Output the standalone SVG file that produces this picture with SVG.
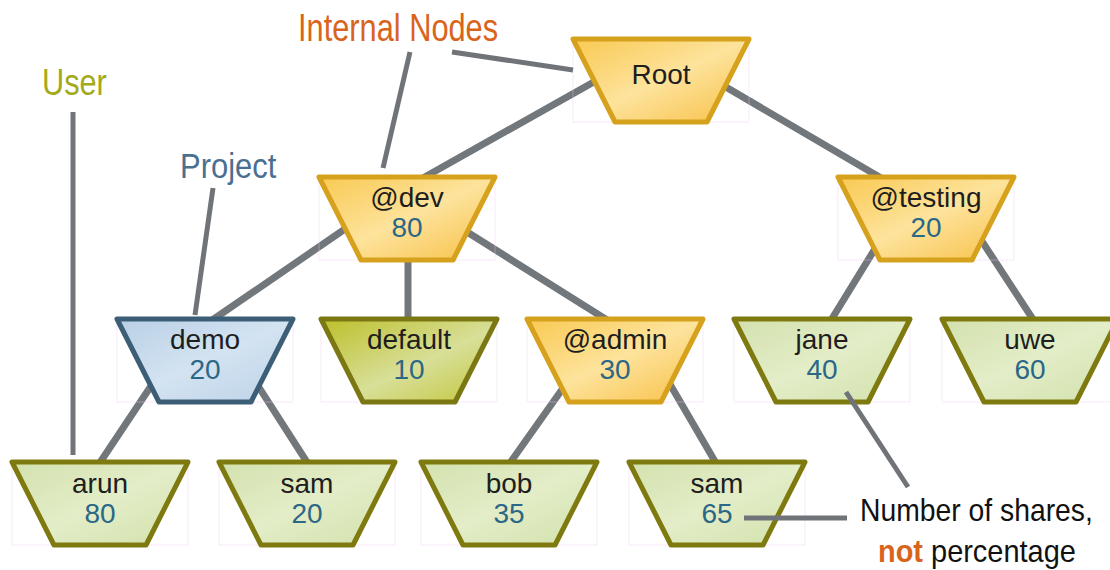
<svg xmlns="http://www.w3.org/2000/svg" width="1110" height="570" viewBox="0 0 1110 570">
  <defs>
    <linearGradient id="gInt" x1="0" y1="0" x2="1" y2="1">
      <stop offset="0" stop-color="#f9c952"/>
      <stop offset="0.5" stop-color="#fde39c"/>
      <stop offset="1" stop-color="#f8bf45"/>
    </linearGradient>
    <linearGradient id="gProj" x1="0" y1="0" x2="1" y2="1">
      <stop offset="0" stop-color="#b9cfe6"/>
      <stop offset="0.5" stop-color="#d3e3f1"/>
      <stop offset="1" stop-color="#bcd2e8"/>
    </linearGradient>
    <linearGradient id="gDef" x1="0" y1="0" x2="1" y2="1">
      <stop offset="0" stop-color="#bcbf2a"/>
      <stop offset="0.55" stop-color="#d8df98"/>
      <stop offset="1" stop-color="#c2c63a"/>
    </linearGradient>
    <linearGradient id="gUser" x1="0" y1="0" x2="1" y2="1">
      <stop offset="0" stop-color="#d3e1ad"/>
      <stop offset="0.5" stop-color="#e3edc8"/>
      <stop offset="1" stop-color="#d2e1aa"/>
    </linearGradient>
    <path id="trap" d="M -88 0 L 88 0 L 46 83 L -46 83 Z"/>
  </defs>
  <style>
    .conn { stroke: #72777c; stroke-width: 7; stroke-linecap: butt; fill: none; }
    .ann { stroke: #707479; stroke-width: 5; fill: none; }
    .bbox { fill: none; stroke: #ecc8ef; stroke-width: 1; opacity: 0.4; }
    .shape { stroke-width: 5; stroke-linejoin: round; }
    .int { fill: url(#gInt); stroke: #d6a11c; }
    .proj { fill: url(#gProj); stroke: #3d5e77; }
    .def { fill: url(#gDef); stroke: #7b7712; }
    .user { fill: url(#gUser); stroke: #7f7a10; }
    .name { font-family: "Liberation Sans", Arial, sans-serif; font-size: 28px; fill: #1e1e1e; text-anchor: middle; }
    .num { font-family: "Liberation Sans", Arial, sans-serif; font-size: 28px; fill: #2b6786; text-anchor: middle; }
    .lbl { font-family: "Liberation Sans", Arial, sans-serif; }
  </style>
  <rect width="1110" height="570" fill="#ffffff"/>

  <g id="connectors">
    <line class="conn" x1="640" y1="56" x2="407" y2="187"/>
    <line class="conn" x1="690" y1="66" x2="905" y2="192"/>
    <line class="conn" x1="380" y1="205" x2="205" y2="325"/>
    <line class="conn" x1="408" y1="230" x2="408" y2="325"/>
    <line class="conn" x1="440" y1="215" x2="615" y2="325"/>
    <line class="conn" x1="905" y1="200" x2="825" y2="330"/>
    <line class="conn" x1="955" y1="200" x2="1040" y2="330"/>
    <line class="conn" x1="175" y1="350" x2="95" y2="470"/>
    <line class="conn" x1="235" y1="350" x2="312" y2="470"/>
    <line class="conn" x1="590" y1="350" x2="505" y2="470"/>
    <line class="conn" x1="650" y1="350" x2="720" y2="470"/>
  </g>

  <g id="node-root" transform="translate(661,39)">
    <rect class="bbox" x="-88" y="0" width="176" height="83"/>
    <use href="#trap" class="shape int"/>
    <text class="name" x="0" y="45">Root</text>
  </g>
  <g id="node-dev" transform="translate(407,177)">
    <rect class="bbox" x="-88" y="0" width="176" height="83"/>
    <use href="#trap" class="shape int"/>
    <text class="name" x="0" y="30">@dev</text>
    <text class="num" x="0" y="60">80</text>
  </g>
  <g id="node-testing" transform="translate(926,177)">
    <rect class="bbox" x="-88" y="0" width="176" height="83"/>
    <use href="#trap" class="shape int"/>
    <text class="name" x="0" y="30">@testing</text>
    <text class="num" x="0" y="60">20</text>
  </g>
  <g id="node-demo" transform="translate(205,319)">
    <rect class="bbox" x="-88" y="0" width="176" height="83"/>
    <use href="#trap" class="shape proj"/>
    <text class="name" x="0" y="30">demo</text>
    <text class="num" x="0" y="60">20</text>
  </g>
  <g id="node-default" transform="translate(409,319)">
    <rect class="bbox" x="-88" y="0" width="176" height="83"/>
    <use href="#trap" class="shape def"/>
    <text class="name" x="0" y="30">default</text>
    <text class="num" x="0" y="60">10</text>
  </g>
  <g id="node-admin" transform="translate(615,319)">
    <rect class="bbox" x="-88" y="0" width="176" height="83"/>
    <use href="#trap" class="shape int"/>
    <text class="name" x="0" y="30">@admin</text>
    <text class="num" x="0" y="60">30</text>
  </g>
  <g id="node-jane" transform="translate(822,319)">
    <rect class="bbox" x="-88" y="0" width="176" height="83"/>
    <use href="#trap" class="shape user"/>
    <text class="name" x="0" y="30">jane</text>
    <text class="num" x="0" y="60">40</text>
  </g>
  <g id="node-uwe" transform="translate(1030,319)">
    <rect class="bbox" x="-88" y="0" width="176" height="83"/>
    <use href="#trap" class="shape user"/>
    <text class="name" x="0" y="30">uwe</text>
    <text class="num" x="0" y="60">60</text>
  </g>
  <g id="node-arun" transform="translate(100,462)">
    <rect class="bbox" x="-88" y="0" width="176" height="83"/>
    <use href="#trap" class="shape user"/>
    <text class="name" x="0" y="31">arun</text>
    <text class="num" x="0" y="61">80</text>
  </g>
  <g id="node-sam1" transform="translate(307,462)">
    <rect class="bbox" x="-88" y="0" width="176" height="83"/>
    <use href="#trap" class="shape user"/>
    <text class="name" x="0" y="31">sam</text>
    <text class="num" x="0" y="61">20</text>
  </g>
  <g id="node-bob" transform="translate(509,462)">
    <rect class="bbox" x="-88" y="0" width="176" height="83"/>
    <use href="#trap" class="shape user"/>
    <text class="name" x="0" y="31">bob</text>
    <text class="num" x="0" y="61">35</text>
  </g>
  <g id="node-sam2" transform="translate(717,462)">
    <rect class="bbox" x="-88" y="0" width="176" height="83"/>
    <use href="#trap" class="shape user"/>
    <text class="name" x="0" y="31">sam</text>
    <text class="num" x="0" y="61">65</text>
  </g>

  <g id="annotations">
    <line class="ann" x1="410" y1="52" x2="383" y2="168"/>
    <line class="ann" x1="452" y1="52" x2="573" y2="70"/>
    <line class="ann" x1="73" y1="112" x2="73" y2="455"/>
    <line class="ann" x1="213" y1="188" x2="195" y2="315"/>
    <line class="ann" x1="846" y1="392" x2="908" y2="487"/>
    <line class="ann" x1="744" y1="518" x2="847" y2="518"/>
  </g>

  <g id="labels">
    <text class="lbl" transform="translate(298,41) scale(0.81,1)" font-size="38" fill="#d9641c">Internal Nodes</text>
    <text class="lbl" transform="translate(42,95) scale(0.83,1)" font-size="37" fill="#a3aa1a">User</text>
    <text class="lbl" transform="translate(180,178) scale(0.86,1)" font-size="36" fill="#4a7091">Project</text>
    <text class="lbl" transform="translate(860,521) scale(0.885,1)" font-size="32" fill="#111111">Number of shares,</text>
    <text class="lbl" transform="translate(878,562) scale(0.905,1)" font-size="32" fill="#111111"><tspan font-weight="bold" fill="#d9641c">not</tspan> percentage</text>
  </g>
</svg>
